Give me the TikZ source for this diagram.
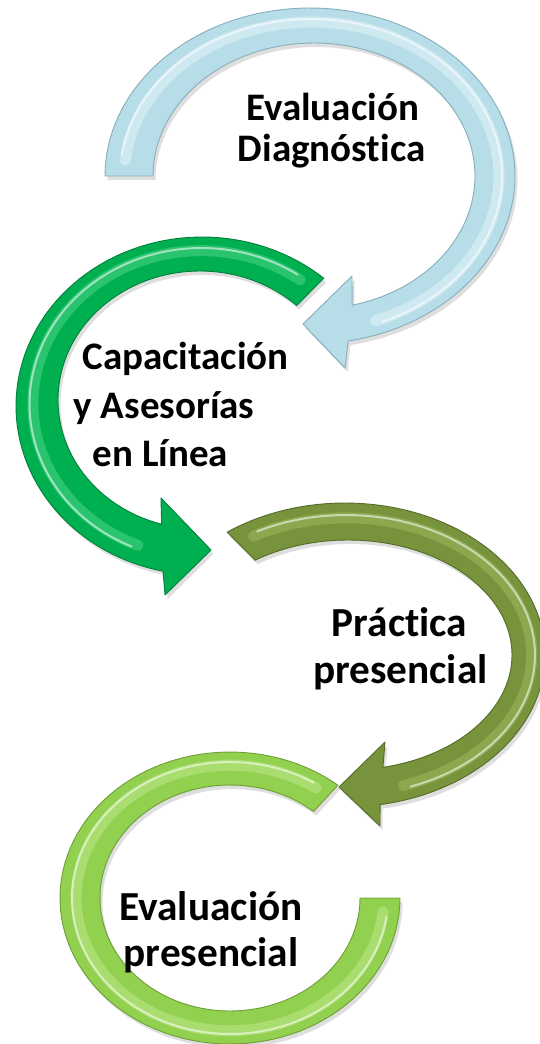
\documentclass[tikz,border=0pt]{standalone}
\usepackage{fontspec}
\setmainfont{Carlito}[Ligatures=NoCommon]
\usetikzlibrary{calc}
\definecolor{bluebase}{HTML}{B7DDE8}
\definecolor{blueedge}{HTML}{86AEBC}
\definecolor{bluehi}{HTML}{E4F3F8}
\definecolor{greenbase}{HTML}{00B050}
\definecolor{greenedge}{HTML}{00803A}
\definecolor{greenhi}{HTML}{4ED68A}
\definecolor{olivebase}{HTML}{77933C}
\definecolor{oliveedge}{HTML}{556B28}
\definecolor{olivehi}{HTML}{9DBB5F}
\definecolor{limebase}{HTML}{92D050}
\definecolor{limeedge}{HTML}{6E9F37}
\definecolor{limehi}{HTML}{BDE98A}
\tikzset{
  lbl/.style={inner sep=0pt, anchor=base, text=black, font=\bfseries\fontsize{39}{39}\selectfont},
  lblbig/.style={lbl, font=\bfseries\fontsize{41.3}{41.3}\selectfont},
  shadowfill/.style={fill=black, opacity=0.13, shift={(2.5,4)}},
  bandfill/.style={fill=#1base, draw=#1edge, line width=0.9pt, line join=round},
  bandhi/.style={draw=#1hi, line width=11pt, opacity=0.55, line cap=round},
  bandline/.style={draw=white, line width=2pt, opacity=0.55, line cap=round},
}
\def\bluepath{plot[domain=180:439.3, samples=100] ({310+205*cos(\x)},{176+168*sin(\x)})
  -- (345,368) -- (303,324) -- (352,276)
  -- plot[domain=436.3:180, samples=100] ({314+161*cos(\x)},{176+133*sin(\x)}) -- cycle}
\def\greenpath{plot[domain=-49.1:-257.9, samples=100] ({202+186*cos(\x)},{406+169*sin(\x)})
  -- (165,595) -- (211,550) -- (161,498)
  -- plot[domain=-254.3:-47.1, samples=100] ({200+142*cos(\x)},{400+129*sin(\x)}) -- cycle}
\def\olivepath{plot[domain=233.9:439.9, samples=100] ({345+200*cos(\x)},{655+152*sin(\x)})
  -- (380,826) -- (339,787) -- (385,742)
  -- plot[domain=437.7:235.5, samples=100] ({348+164*cos(\x)},{655+115*sin(\x)}) -- cycle}
\def\limepath{plot[domain=-50.6:-360, samples=100] ({230+170*cos(\x)},{898+146*sin(\x)})
  -- plot[domain=-360:-50, samples=100] ({230+130*cos(\x)},{898+113*sin(\x)}) -- cycle}
\begin{document}
\begin{tikzpicture}[x=1pt, y=-1pt]
\useasboundingbox (0,0) rectangle (539,1044);
% shadows
\fill[shadowfill] \bluepath;
\fill[shadowfill] \greenpath;
\fill[shadowfill] \olivepath;
\fill[shadowfill] \limepath;
% blue arrow
\path[bandfill=blue] \bluepath;
\draw[bandhi=blue] plot[domain=186:430, samples=80] ({311.6+187.4*cos(\x)},{176+154*sin(\x)});
\draw[bandline] plot[domain=188:428, samples=80] ({311+191*cos(\x)},{176+157*sin(\x)});
% green arrow
\path[bandfill=green] \greenpath;
\draw[bandhi=green] plot[domain=-54:-248, samples=80] ({201.2+168.4*cos(\x)},{403.6+153*sin(\x)});
\draw[bandline] plot[domain=-56:-246, samples=80] ({201.5+172*cos(\x)},{404+156*sin(\x)});
% olive arrow
\path[bandfill=olive] \olivepath;
\draw[bandhi=olive] plot[domain=240:432, samples=80] ({346.2+185.6*cos(\x)},{655+137.2*sin(\x)});
\draw[bandline] plot[domain=242:430, samples=80] ({346+189*cos(\x)},{655+140*sin(\x)});
% lime arrow
\path[bandfill=lime] \limepath;
\draw[bandhi=lime] plot[domain=-56:-354, samples=80] ({230+154*cos(\x)},{898+132.8*sin(\x)});
\draw[bandline] plot[domain=-58:-352, samples=80] ({230+158*cos(\x)},{898+136*sin(\x)});
% labels
\node[lbl] (t1a) at (332.5,120) {Evaluación};
\node[lbl] (t1b) at (331.6,161) {Diagnóstica};
\node[lbl] (t2a) at (185.5,369) {Capacitación};
\node[lbl] (t2b) at (164,418) {y Asesorías};
\node[lbl] (t2c) at (160.6,466) {en Línea};
\node[lblbig] (t3a) at (399.5,636) {Práctica};
\node[lblbig] (t3b) at (400.4,683) {presencial};
\node[lblbig] (t4a) at (211,920) {Evaluación};
\node[lblbig] (t4b) at (211,966) {presencial};
\end{tikzpicture}
\end{document}
